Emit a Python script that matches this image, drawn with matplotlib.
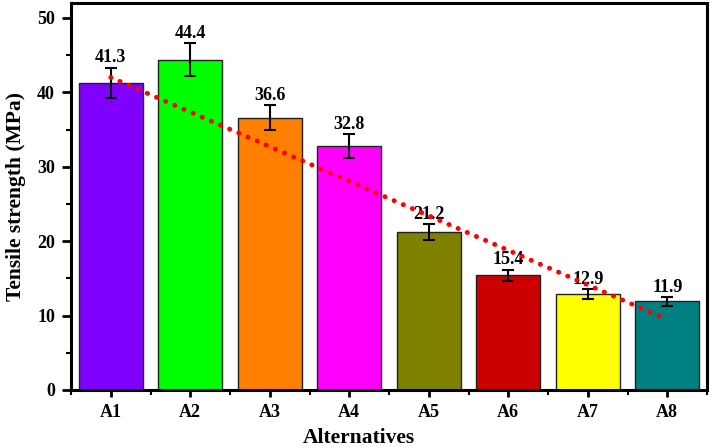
import matplotlib
matplotlib.use("Agg")
import matplotlib.pyplot as plt
from matplotlib.ticker import MultipleLocator, FixedLocator

categories = ["A1", "A2", "A3", "A4", "A5", "A6", "A7", "A8"]
values = [41.3, 44.4, 36.6, 32.8, 21.2, 15.4, 12.9, 11.9]
errors = [2.0, 2.2, 1.7, 1.6, 1.1, 0.75, 0.65, 0.6]
colors = ["#8000FF", "#00FF00", "#FF8000", "#FF00FF", "#808000", "#CC0000", "#FFFF00", "#008080"]
trend_x = [1.0, 7.93]
trend_y = [42.0, 9.8]

plt.rcParams['font.family'] = ['Liberation Serif', 'DejaVu Serif']
plt.rcParams['font.weight'] = 'bold'

fig = plt.figure(figsize=(7.13, 4.48), dpi=100)
ax = fig.add_axes([0.0996, 0.1295, 0.892, 0.8638])

x = list(range(1, len(categories) + 1))
ax.bar(x, values, width=0.8, color=colors, edgecolor="#222222", linewidth=1.0, zorder=2)
ax.errorbar(x, values, yerr=errors, fmt='none', ecolor='black', elinewidth=1.5,
            capsize=4.5, capthick=1.5, zorder=3)
for xi, v, e in zip(x, values, errors):
    ax.annotate(f"{v:.1f}", (xi, v + e), xytext=(0, 1), textcoords='offset points',
                ha='center', va='bottom', fontsize=13, fontweight='bold', zorder=4)

ax.plot(trend_x, trend_y, color='red', linestyle=(0, (0.05, 2.0)), linewidth=3.5,
        dash_capstyle='round', solid_capstyle='round', zorder=5)

ax.set_xlim(0.5, 8.5)
ax.set_ylim(0, 52)
ax.set_xticks(x)
ax.set_xticklabels(categories)
ax.xaxis.set_minor_locator(FixedLocator([i + 0.5 for i in range(0, 9)]))
ax.yaxis.set_major_locator(MultipleLocator(10))
ax.yaxis.set_minor_locator(MultipleLocator(5))

for s in ax.spines.values():
    s.set_linewidth(2.2)
ax.tick_params(axis='y', which='major', direction='out', length=6.5, width=2, labelsize=13, pad=5)
ax.tick_params(axis='x', which='major', direction='out', length=5, width=2, labelsize=13, pad=5)
ax.tick_params(axis='both', which='minor', direction='out', length=3.5, width=1.5)
for lab in ax.get_xticklabels() + ax.get_yticklabels():
    lab.set_fontweight('bold')

ax.set_xlabel("Alternatives", fontsize=15.5, fontweight='bold')
ax.xaxis.set_label_coords(0.453, -0.137)
ax.xaxis.label.set_va('baseline')
ax.set_ylabel("Tensile strength (MPa)", fontsize=15.5, fontweight='bold', labelpad=8)

fig.savefig("out.png", dpi=100)
